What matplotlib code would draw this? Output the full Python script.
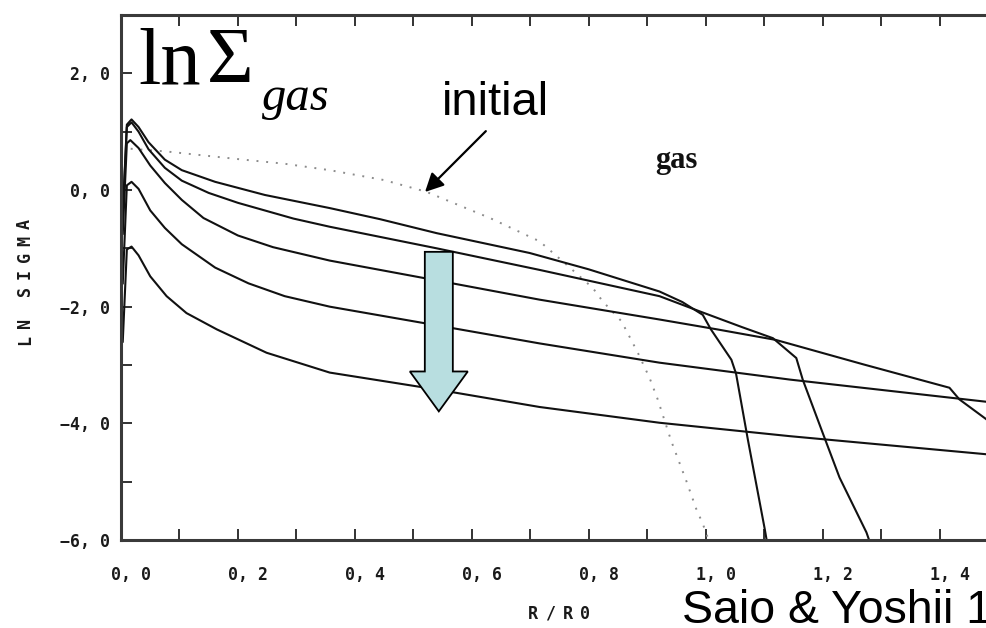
import matplotlib
matplotlib.use("Agg")
import matplotlib.pyplot as plt
from matplotlib.ticker import MultipleLocator, FuncFormatter
from matplotlib.patches import FancyArrow
from matplotlib.transforms import ScaledTranslation

# ---- data: ln(surface density of gas) vs R/R0 ----
r_initial = [0.0, 0.078, 0.2, 0.28, 0.357, 0.45, 0.522, 0.631, 0.716, 0.762, 0.807,
             0.824, 0.856, 0.884, 0.904, 0.918, 0.941, 0.967, 0.984, 0.995, 1.005]
ln_initial = [0.72, 0.66, 0.53, 0.45, 0.34, 0.17, -0.03, -0.48, -0.88, -1.28, -1.68,
              -1.91, -2.25, -2.79, -3.22, -3.59, -4.30, -4.99, -5.47, -5.72, -6.0]

r_t1 = [0.003, 0.010, 0.018, 0.03, 0.047, 0.075, 0.104, 0.161, 0.246, 0.357, 0.443,
        0.54, 0.699, 0.8, 0.921, 0.96, 0.995, 1.009, 1.044, 1.052, 1.072, 1.101, 1.106]
ln_t1 = [-0.4, 1.12, 1.21, 1.08, 0.82, 0.52, 0.34, 0.14, -0.085, -0.31, -0.5,
         -0.74, -1.08, -1.36, -1.74, -1.92, -2.14, -2.39, -2.91, -3.15, -4.27, -5.81, -6.1]

r_t2 = [0.003, 0.010, 0.018, 0.03, 0.047, 0.075, 0.104, 0.15, 0.2, 0.295, 0.357, 0.54,
        0.716, 0.921, 0.995, 1.062, 1.115, 1.155, 1.166, 1.20, 1.229, 1.275, 1.283]
ln_t2 = [-0.45, 1.08, 1.16, 1.0, 0.7, 0.38, 0.16, -0.05, -0.22, -0.49, -0.63, -1.0,
         -1.37, -1.82, -2.10, -2.35, -2.54, -2.88, -3.25, -4.16, -4.93, -5.87, -6.1]

r_t3 = [0.003, 0.010, 0.016, 0.03, 0.05, 0.075, 0.104, 0.141, 0.2, 0.26, 0.357, 0.54,
        0.716, 0.921, 1.02, 1.12, 1.27, 1.417, 1.434, 1.48, 1.5]
ln_t3 = [-0.75, 0.80, 0.855, 0.72, 0.42, 0.12, -0.17, -0.48, -0.78, -0.98, -1.21, -1.55,
         -1.88, -2.22, -2.39, -2.57, -2.99, -3.39, -3.59, -3.93, -4.1]

r_t4 = [0.003, 0.010, 0.018, 0.03, 0.05, 0.075, 0.104, 0.161, 0.218, 0.28, 0.357, 0.54,
        0.716, 0.921, 1.144, 1.48, 1.5]
ln_t4 = [-1.6, 0.08, 0.14, 0.02, -0.35, -0.65, -0.93, -1.33, -1.60, -1.82, -2.0, -2.32,
         -2.63, -2.96, -3.25, -3.63, -3.65]

r_t5 = [0.003, 0.010, 0.018, 0.03, 0.05, 0.078, 0.112, 0.164, 0.249, 0.357, 0.54,
        0.716, 0.921, 1.144, 1.48, 1.5]
ln_t5 = [-2.6, -1.02, -0.97, -1.12, -1.48, -1.82, -2.11, -2.39, -2.79, -3.13, -3.42,
         -3.72, -3.99, -4.22, -4.53, -4.55]

x_ticks_major = 0.2
y_ticks_major = 2.0

# ---- figure ----
W, H = 987, 628
fig = plt.figure(figsize=(W / 100, H / 100), dpi=100)
fig.patch.set_facecolor("white")
ax = fig.add_axes([121 / W, (H - 540) / H, (998 - 121) / W, (540 - 15) / H])


def fpos(x, y):
    """pixel position (from top-left) -> figure fraction"""
    return x / W, (H - y) / H


ax.plot(r_initial, ln_initial, color="#8c8c8c", lw=1.4, linestyle=(0, (1, 4)))
for r, v in [(r_t1, ln_t1), (r_t2, ln_t2), (r_t3, ln_t3), (r_t4, ln_t4), (r_t5, ln_t5)]:
    ax.plot(r, v, color="#111111", lw=1.5, solid_joinstyle="round")

ax.set_xlim(0, 1.5)
ax.set_ylim(-6, 3)

# ticks
ax.xaxis.set_major_locator(MultipleLocator(x_ticks_major))
ax.xaxis.set_minor_locator(MultipleLocator(0.1))
ax.yaxis.set_major_locator(MultipleLocator(y_ticks_major))
ax.yaxis.set_minor_locator(MultipleLocator(1.0))


def fmt(v, pos):
    s = f"{abs(v):.1f}".replace(".", ", ")
    return ("\u2212" if v < -1e-9 else "") + s


ax.xaxis.set_major_formatter(FuncFormatter(fmt))
ax.yaxis.set_major_formatter(FuncFormatter(fmt))
ax.tick_params(which="both", direction="in", length=8, width=1.3, color="#222222",
               top=True, right=True)
ax.tick_params(axis="x", which="major", pad=19)
ax.tick_params(axis="y", which="major", pad=8)
for lab in ax.get_xticklabels() + ax.get_yticklabels():
    lab.set_fontfamily("DejaVu Sans Mono")
    lab.set_fontweight("bold")
    lab.set_fontsize(12)
    lab.set_color("#1a1a1a")
shift = ScaledTranslation(10 / 100, 0, fig.dpi_scale_trans)
for lab in ax.get_xticklabels():
    lab.set_transform(lab.get_transform() + shift)

for sp in ax.spines.values():
    sp.set_color("#3a3a3a")
    sp.set_linewidth(2.2)


def spaced(text, x0, y0, step, vertical=False, size=12):
    for i, ch in enumerate(text):
        if ch == " ":
            continue
        if vertical:
            x, y = fpos(x0, y0 - i * step)
            fig.text(x, y, ch, rotation=90, ha="center", va="center",
                     family="DejaVu Sans Mono", weight="bold", size=size, color="#1a1a1a")
        else:
            x, y = fpos(x0 + i * step, y0)
            fig.text(x, y, ch, ha="center", va="center",
                     family="DejaVu Sans Mono", weight="bold", size=size, color="#1a1a1a")


spaced("LN SIGMA", 25, 340, 16.5, vertical=True)
spaced("R/R0", 533, 614, 17.5)

# panel title  ln Σ_gas
fig.text(*fpos(138, 83), "ln", family="Liberation Serif", size=58, va="baseline", ha="left")
fig.text(*fpos(207, 83), "\u03a3", family="Liberation Serif", size=58, va="baseline", ha="left")
fig.text(*fpos(262, 110), "gas", family="Liberation Serif", style="italic", size=35,
         va="baseline", ha="left")

# in-panel label
fig.text(*fpos(655, 168), "gas", family="Liberation Serif", weight="bold", size=22,
         va="baseline", ha="left", color="#111111")

# "initial" pointer
fig.text(*fpos(442, 115), "initial", family="Liberation Sans", size=34,
         va="baseline", ha="left")
ax.annotate("", xy=(0.520, -0.034), xytext=(0.624, 1.009),
            arrowprops=dict(arrowstyle="-|>", color="black", lw=1.6, mutation_scale=28,
                            shrinkA=0, shrinkB=0))

# time-evolution arrow
ax.add_patch(FancyArrow(0.5436, -1.06, 0, -2.735, width=0.0479, head_width=0.0991,
                        head_length=0.684, length_includes_head=True,
                        facecolor="#b8dee0", edgecolor="black", lw=1.3, zorder=5))

# citation
fig.text(*fpos(682, 623), "Saio & Yoshii 1990", family="Liberation Sans", size=33.5,
         va="baseline", ha="left")

fig.savefig("out.png", dpi=100)
